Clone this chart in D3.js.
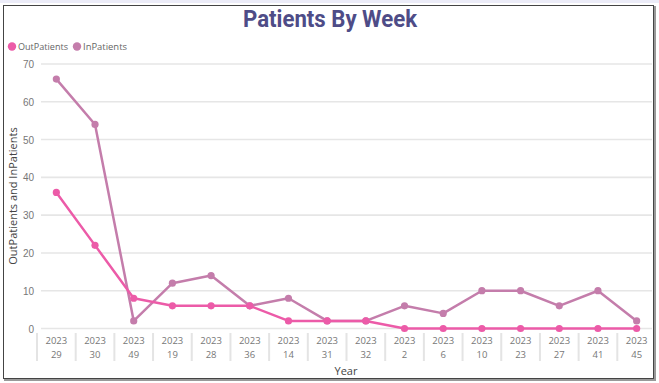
<!DOCTYPE html>
<html><head><meta charset="utf-8">
<script src="https://cdn.jsdelivr.net/npm/d3@7"></script>
<style>
html,body{margin:0;padding:0;background:#fff;}
svg{display:block;font-family:"Segoe UI","Open Sans","Noto Sans",sans-serif;}
</style></head>
<body>
<svg id="c" width="659" height="383"></svg>
<script>
const years = ["2023","2023","2023","2023","2023","2023","2023","2023","2023","2023","2023","2023","2023","2023","2023","2023"];
const weeks = ["29","30","49","19","28","36","14","31","32","2","6","10","23","27","41","45"];
const outPatients = [36,22,8,6,6,6,2,2,2,0,0,0,0,0,0,0];
const inPatients = [66,54,2,12,14,6,8,2,2,6,4,10,10,6,10,2];
const yTicks = [0,10,20,30,40,50,60,70];
const seriesNames = ["OutPatients","InPatients"];
const seriesColors = ["#EC5BA8","#C47DAB"];

const svg = d3.select("#c");
const W = 659, H = 383;
const cats = weeks.map((w,i)=>i);

// top strip
svg.append("rect").attr("x",0).attr("y",0).attr("width",W).attr("height",3).attr("fill","#ececf8");
// frame
svg.append("rect").attr("x",3.5).attr("y",5.5).attr("width",650).attr("height",373)
  .attr("fill","#fff").attr("stroke","#444").attr("stroke-width",1);
svg.append("line").attr("x1",655).attr("x2",655).attr("y1",6).attr("y2",380).attr("stroke","#999").attr("stroke-width",2);
svg.append("line").attr("x1",4).attr("x2",656).attr("y1",380).attr("y2",380).attr("stroke","#999").attr("stroke-width",2);

const x = d3.scaleBand().domain(cats).range([37,656]).padding(0);
const y = d3.scaleLinear().domain([0,70]).range([328.5,64]);

// title
svg.append("text").attr("x",330).attr("y",27).attr("text-anchor","middle")
  .attr("font-family","Roboto, 'DejaVu Sans', sans-serif").attr("font-weight","bold")
  .attr("font-size",23).attr("fill","#4E4C87").text("Patients By Week")
  .attr("textLength",174).attr("lengthAdjust","spacingAndGlyphs");

// legend
const lg = svg.append("g").attr("font-size",9.5).attr("fill","#666");
const legX = [12,77];
const legW = [50,44];
seriesNames.forEach((n,i)=>{
  lg.append("circle").attr("cx",legX[i]).attr("cy",46.5).attr("r",4.2).attr("fill",seriesColors[i]);
  lg.append("text").attr("x",legX[i]+6).attr("y",50).text(n)
    .attr("textLength",legW[i]).attr("lengthAdjust","spacingAndGlyphs");
});

// grid + y axis
const yAxis = d3.axisLeft(y).tickValues(yTicks).tickSize(0).tickPadding(0);
const gy = svg.append("g").attr("transform","translate(34,0)").call(yAxis);
gy.select(".domain").remove();
gy.selectAll("text").attr("font-size",10).attr("fill","#777").attr("font-family",null).attr("dy","0.35em");
svg.append("g").selectAll("line").data(yTicks).join("line")
  .attr("x1",41).attr("x2",652).attr("y1",d=>y(d)).attr("y2",d=>y(d))
  .attr("stroke","#e6e6e6").attr("stroke-width",1.6);

// x axis separators and labels
const gx = svg.append("g");
cats.forEach(i=>{
  gx.append("rect").attr("x",x(i)-1).attr("y",333).attr("width",2).attr("height",28).attr("fill","#e4e4e4");
  const cx = x(i)+x.bandwidth()/2;
  gx.append("text").attr("x",cx).attr("y",344).attr("text-anchor","middle").attr("font-size",9.5).attr("fill","#777").text(years[i]);
  gx.append("text").attr("x",cx).attr("y",357.5).attr("text-anchor","middle").attr("font-size",9.5).attr("fill","#777").text(weeks[i]);
});

// axis titles
svg.append("text").attr("x",346).attr("y",375).attr("text-anchor","middle").attr("font-size",11).attr("fill","#444").text("Year");
svg.append("text").attr("transform","translate(17,196) rotate(-90)").attr("text-anchor","middle")
  .attr("font-size",11).attr("fill","#444").text("OutPatients and InPatients");

// series
const data = [outPatients, inPatients];
const line = d3.line().x((d,i)=>x(i)+x.bandwidth()/2).y(d=>y(d));
[1,0].forEach(s=>{
  const g = svg.append("g");
  g.append("path").datum(data[s]).attr("d",line).attr("fill","none")
    .attr("stroke",seriesColors[s]).attr("stroke-width",2.5).attr("stroke-linejoin","round");
  g.selectAll("circle").data(data[s]).join("circle")
    .attr("cx",(d,i)=>x(i)+x.bandwidth()/2).attr("cy",d=>y(d)).attr("r",3.6).attr("fill",seriesColors[s]);
});
</script>
</body></html>
